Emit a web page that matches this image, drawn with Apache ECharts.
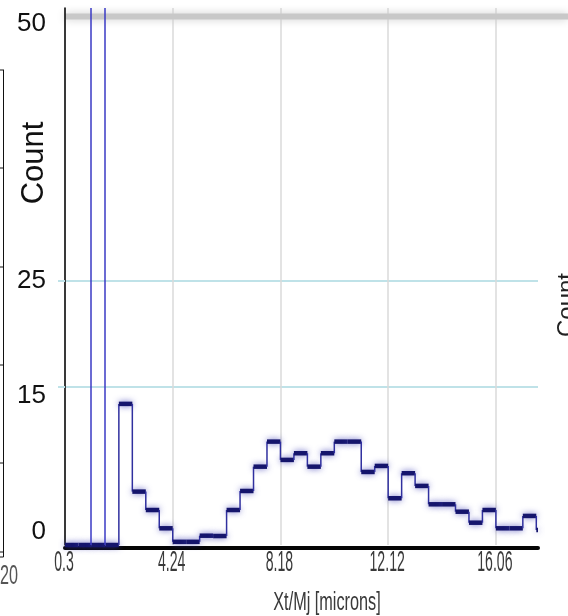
<!DOCTYPE html>
<html>
<head>
<meta charset="utf-8">
<script src="https://cdn.jsdelivr.net/npm/echarts@6/dist/echarts.min.js"></script>
<style>
  html, body { margin: 0; padding: 0; background: #ffffff; }
  #chart { width: 568px; height: 616px; }
</style>
</head>
<body>
<div id="chart"></div>
<script>
// Histogram bin edges (microns) and counts per bin
const binEdges = [0.3, 0.7925, 1.285, 1.7775, 2.27, 2.7625, 3.255, 3.7475, 4.24, 4.7325,
  5.225, 5.7175, 6.21, 6.7025, 7.195, 7.6875, 8.18, 8.6725, 9.165, 9.6575,
  10.15, 10.6425, 11.135, 11.6275, 12.12, 12.6125, 13.105, 13.5975, 14.09, 14.5825,
  15.075, 15.5675, 16.06, 16.5525, 17.045, 17.5375, 18.03];
const counts = [0, 0, 0, 0, 13.35, 5.05, 3.31, 1.58, 0.3, 0.3,
  0.88, 0.85, 3.31, 5.11, 7.41, 9.78, 8.05, 8.68, 7.41, 8.68,
  9.78, 9.78, 6.91, 7.48, 4.42, 6.79, 5.59, 3.85, 3.85, 3.15,
  2.11, 3.31, 1.58, 1.58, 2.75, 1.42];

// Vertical marker lines
const markerPositions = [1.25, 1.74];

// Axis ticks and labels
const xTickValues = [0.3, 4.24, 8.18, 12.12, 16.06];
const xTickLabels = ['0.3', '4.24', '8.18', '12.12', '16.06'];
const yLabelValues = [0, 15, 25, 50];
const yGridValues = [15, 25];
const xAxisTitle = 'Xt/Mj [microns]';
const yAxisTitle = 'Count';

const X_MIN = 0.3, X_MAX = 17.6, Y_MIN = 0, Y_MAX = 50.8;

const binData = counts.map((c, i) => [binEdges[i], binEdges[i + 1], c, i === 0 ? 0 : counts[i - 1]]);

const chart = echarts.init(document.getElementById('chart'), null, { renderer: 'canvas' });

const labelFont = '"Liberation Sans", Arial, sans-serif';
const yRich = {
  z: { fontSize: 26, color: '#111', fontFamily: labelFont, padding: [0, 0, 26, 0] },
  f: { fontSize: 26, color: '#111', fontFamily: labelFont, padding: [19, 0, 0, 0] },
  t: { fontSize: 26, color: '#111', fontFamily: labelFont },
  h: { fontSize: 26, color: '#111', fontFamily: labelFont, padding: [15, 0, 0, 0] }
};
const yKey = { 0: 'z', 15: 'f', 25: 't', 50: 'h' };

chart.setOption({
  animation: false,
  backgroundColor: '#ffffff',
  grid: { left: 65, right: 30, top: 8, bottom: 71, containLabel: false, outerBoundsMode: 'none' },
  xAxis: {
    type: 'value',
    min: X_MIN,
    max: X_MAX,
    offset: 3,
    axisLine: { show: true, onZero: false, lineStyle: { color: '#050505', width: 4 } },
    axisTick: { show: false, customValues: xTickValues },
    axisLabel: { show: false },
    splitLine: { show: true, lineStyle: { color: '#dadada', width: 1.5, type: 'solid' } }
  },
  yAxis: {
    type: 'value',
    min: Y_MIN,
    max: Y_MAX,
    axisLine: { show: true, lineStyle: { color: '#000', width: 1.5 } },
    axisTick: { show: true, length: 7, customValues: yGridValues, lineStyle: { color: '#bfe2e8', width: 2 } },
    axisLabel: {
      show: true,
      customValues: yLabelValues,
      margin: 19,
      formatter: v => '{' + yKey[v] + '|' + v + '}',
      rich: yRich
    },
    splitLine: { show: true, lineStyle: { color: '#bfe2e8', width: 2 } }
  },
  series: [
    {
      type: 'custom',
      name: 'histogram',
      silent: true,
      clip: false,
      data: binData,
      renderItem: function (params, api) {
        const x0 = api.value(0), x1 = api.value(1), v = api.value(2), prev = api.value(3);
        const cs = params.coordSys;
        const pStart = api.coord([x0, v]);
        const pEnd = api.coord([x1, v]);
        const pPrev = api.coord([x0, prev]);
        const right = Math.min(pEnd[0], cs.x + cs.width);
        return {
          type: 'group',
          children: [
            {
              type: 'line',
              shape: { x1: pStart[0], y1: pPrev[1], x2: pStart[0], y2: pStart[1] },
              style: { stroke: '#30309f', lineWidth: 1.5 }
            },
            {
              type: 'line',
              shape: { x1: pStart[0], y1: pStart[1], x2: right, y2: pStart[1] },
              style: { stroke: '#15156c', lineWidth: 4.5, shadowBlur: 6, shadowColor: 'rgba(60,60,180,0.75)' }
            }
          ]
        };
      },
      markLine: {
        silent: true,
        symbol: ['none', 'none'],
        label: { show: false },
        lineStyle: { color: '#3a3ac4', width: 1.5, type: 'solid' },
        data: markerPositions.map(x => ({ xAxis: x }))
      }
    },
    {
      type: 'custom',
      name: 'xTickText',
      silent: true,
      clip: false,
      data: xTickValues.map((v, i) => [v, i]),
      renderItem: function (params, api) {
        const p = api.coord([api.value(0), 0]);
        return {
          type: 'text',
          x: p[0] - 1,
          y: p[1] + 18,
          scaleX: 0.47,
          style: {
            text: xTickLabels[params.dataIndex],
            fill: '#3a3a3a',
            font: '30px ' + labelFont,
            align: 'center',
            verticalAlign: 'middle'
          }
        };
      }
    }
  ]
});

// Titles, top reference band and neighbouring panel edges
const y50 = chart.convertToPixel({ yAxisIndex: 0 }, 50);
const gridLeft = chart.convertToPixel({ xAxisIndex: 0 }, X_MIN);
chart.setOption({
  graphic: [
    {
      type: 'rect', silent: true,
      shape: { x: gridLeft, y: y50 - 3, width: 568 - gridLeft, height: 6 },
      style: { fill: '#c8c8c8', shadowBlur: 8, shadowColor: '#cccccc' }
    },
    {
      type: 'text', silent: true, x: 34, y: 163, rotation: Math.PI / 2,
      style: { text: yAxisTitle, fill: '#111', font: '31px ' + labelFont, align: 'center', verticalAlign: 'middle' }
    },
    {
      type: 'text', silent: true, x: 327, y: 603, scaleX: 0.65,
      style: { text: xAxisTitle, fill: '#3a3a3a', font: '25px ' + labelFont, align: 'center', verticalAlign: 'middle' }
    },
    // edge of the panel on the left
    { type: 'line', silent: true, shape: { x1: 3.5, y1: 70, x2: 3.5, y2: 552 }, style: { stroke: '#111', lineWidth: 1 } },
    { type: 'line', silent: true, shape: { x1: 0, y1: 70, x2: 4, y2: 70 }, style: { stroke: '#111', lineWidth: 1 } },
    { type: 'line', silent: true, shape: { x1: 0, y1: 168, x2: 3.5, y2: 168 }, style: { stroke: '#111', lineWidth: 1 } },
    { type: 'line', silent: true, shape: { x1: 0, y1: 267, x2: 3.5, y2: 267 }, style: { stroke: '#111', lineWidth: 1 } },
    { type: 'line', silent: true, shape: { x1: 0, y1: 365, x2: 3.5, y2: 365 }, style: { stroke: '#111', lineWidth: 1 } },
    { type: 'line', silent: true, shape: { x1: 0, y1: 463, x2: 3.5, y2: 463 }, style: { stroke: '#111', lineWidth: 1 } },
    { type: 'rect', silent: true, shape: { x: -1, y: 552, width: 4.5, height: 5 }, style: { fill: 'none', stroke: '#111', lineWidth: 1 } },
    {
      type: 'text', silent: true, x: 0, y: 577, scaleX: 0.6,
      style: { text: '20', fill: '#555', font: '27px ' + labelFont, align: 'left', verticalAlign: 'middle' }
    },
    // edge of the panel on the right
    {
      type: 'text', silent: true, x: 567, y: 305, rotation: Math.PI / 2,
      style: { text: yAxisTitle, fill: '#222', font: '24px ' + labelFont, align: 'center', verticalAlign: 'middle' }
    }
  ]
});
</script>
</body>
</html>
